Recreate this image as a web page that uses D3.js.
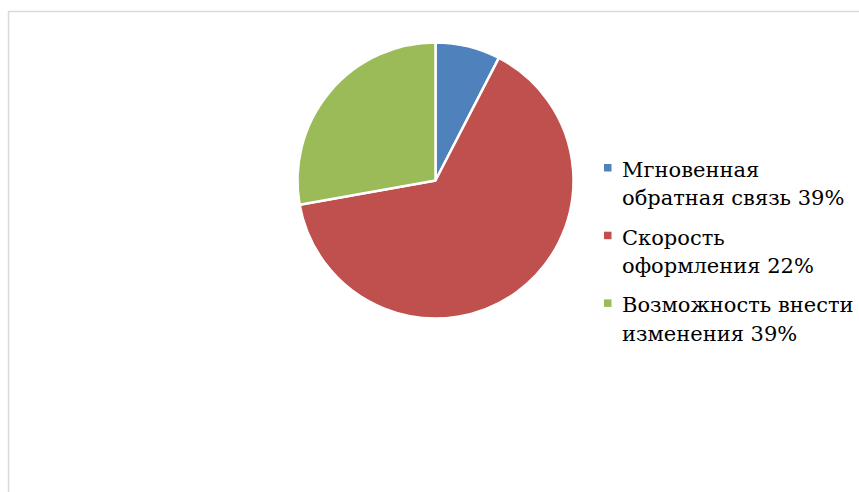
<!DOCTYPE html>
<html lang="ru">
<head>
    <meta charset="UTF-8">
    <title>Pie chart</title>
    <script src="https://d3js.org/d3.v7.min.js"></script>
    <style>
        body {
            margin: 0;
            background: #ffffff;
        }
        svg {
            display: block;
        }
    </style>
</head>
<body>
    <div id="chart"></div>

    <script>
        // data (slice shares) and legend labels as printed
        const categories = ["Мгновенная обратная связь", "Скорость оформления", "Возможность внести изменения"];
        const values = [7.6, 64.6, 27.8];
        const labelLines = [
            ["Мгновенная", "обратная связь 39%"],
            ["Скорость", "оформления 22%"],
            ["Возможность внести", "изменения 39%"]
        ];
        const colors = ["#4F81BD", "#C0504D", "#9BBB59"];

        const width = 859;
        const height = 492;

        const svg = d3.select("#chart")
            .append("svg")
            .attr("width", width)
            .attr("height", height);

        // chart area frame (only top and left edges are visible)
        svg.append("path")
            .attr("d", `M8.5,${height} V11.5 H${width}`)
            .attr("fill", "none")
            .attr("stroke", "#d9d9d9")
            .attr("stroke-width", 1.5);

        const data = categories.map((c, i) => ({ name: c, value: values[i], lines: labelLines[i] }));

        const cx = 435.5, cy = 180.5, radius = 138;

        const pie = d3.pie()
            .sort(null)
            .value(d => d.value);

        const arc = d3.arc()
            .innerRadius(0)
            .outerRadius(radius);

        const color = d3.scaleOrdinal()
            .domain(categories)
            .range(colors);

        svg.append("g")
            .attr("transform", `translate(${cx},${cy})`)
            .selectAll("path")
            .data(pie(data))
            .enter()
            .append("path")
            .attr("d", arc)
            .attr("fill", d => color(d.data.name))
            .attr("stroke", "#ffffff")
            .attr("stroke-width", 2.5)
            .attr("stroke-linejoin", "round");

        // legend
        const legendX = 604, firstBaseline = 177, lineGap = 28.3, itemGap = 67.7;

        const items = svg.append("g")
            .selectAll("g")
            .data(data)
            .enter()
            .append("g")
            .attr("transform", (d, i) => `translate(${legendX},${firstBaseline + i * itemGap})`);

        items.append("rect")
            .attr("x", 0)
            .attr("y", -13)
            .attr("width", 7.5)
            .attr("height", 7.5)
            .attr("fill", d => color(d.name));

        items.append("text")
            .attr("font-family", "'DejaVu Serif', serif")
            .attr("font-size", 21)
            .attr("fill", "#000000")
            .selectAll("tspan")
            .data(d => d.lines)
            .enter()
            .append("tspan")
            .attr("x", 18)
            .attr("y", (d, i) => i * lineGap)
            .text(d => d);
    </script>
</body>
</html>
